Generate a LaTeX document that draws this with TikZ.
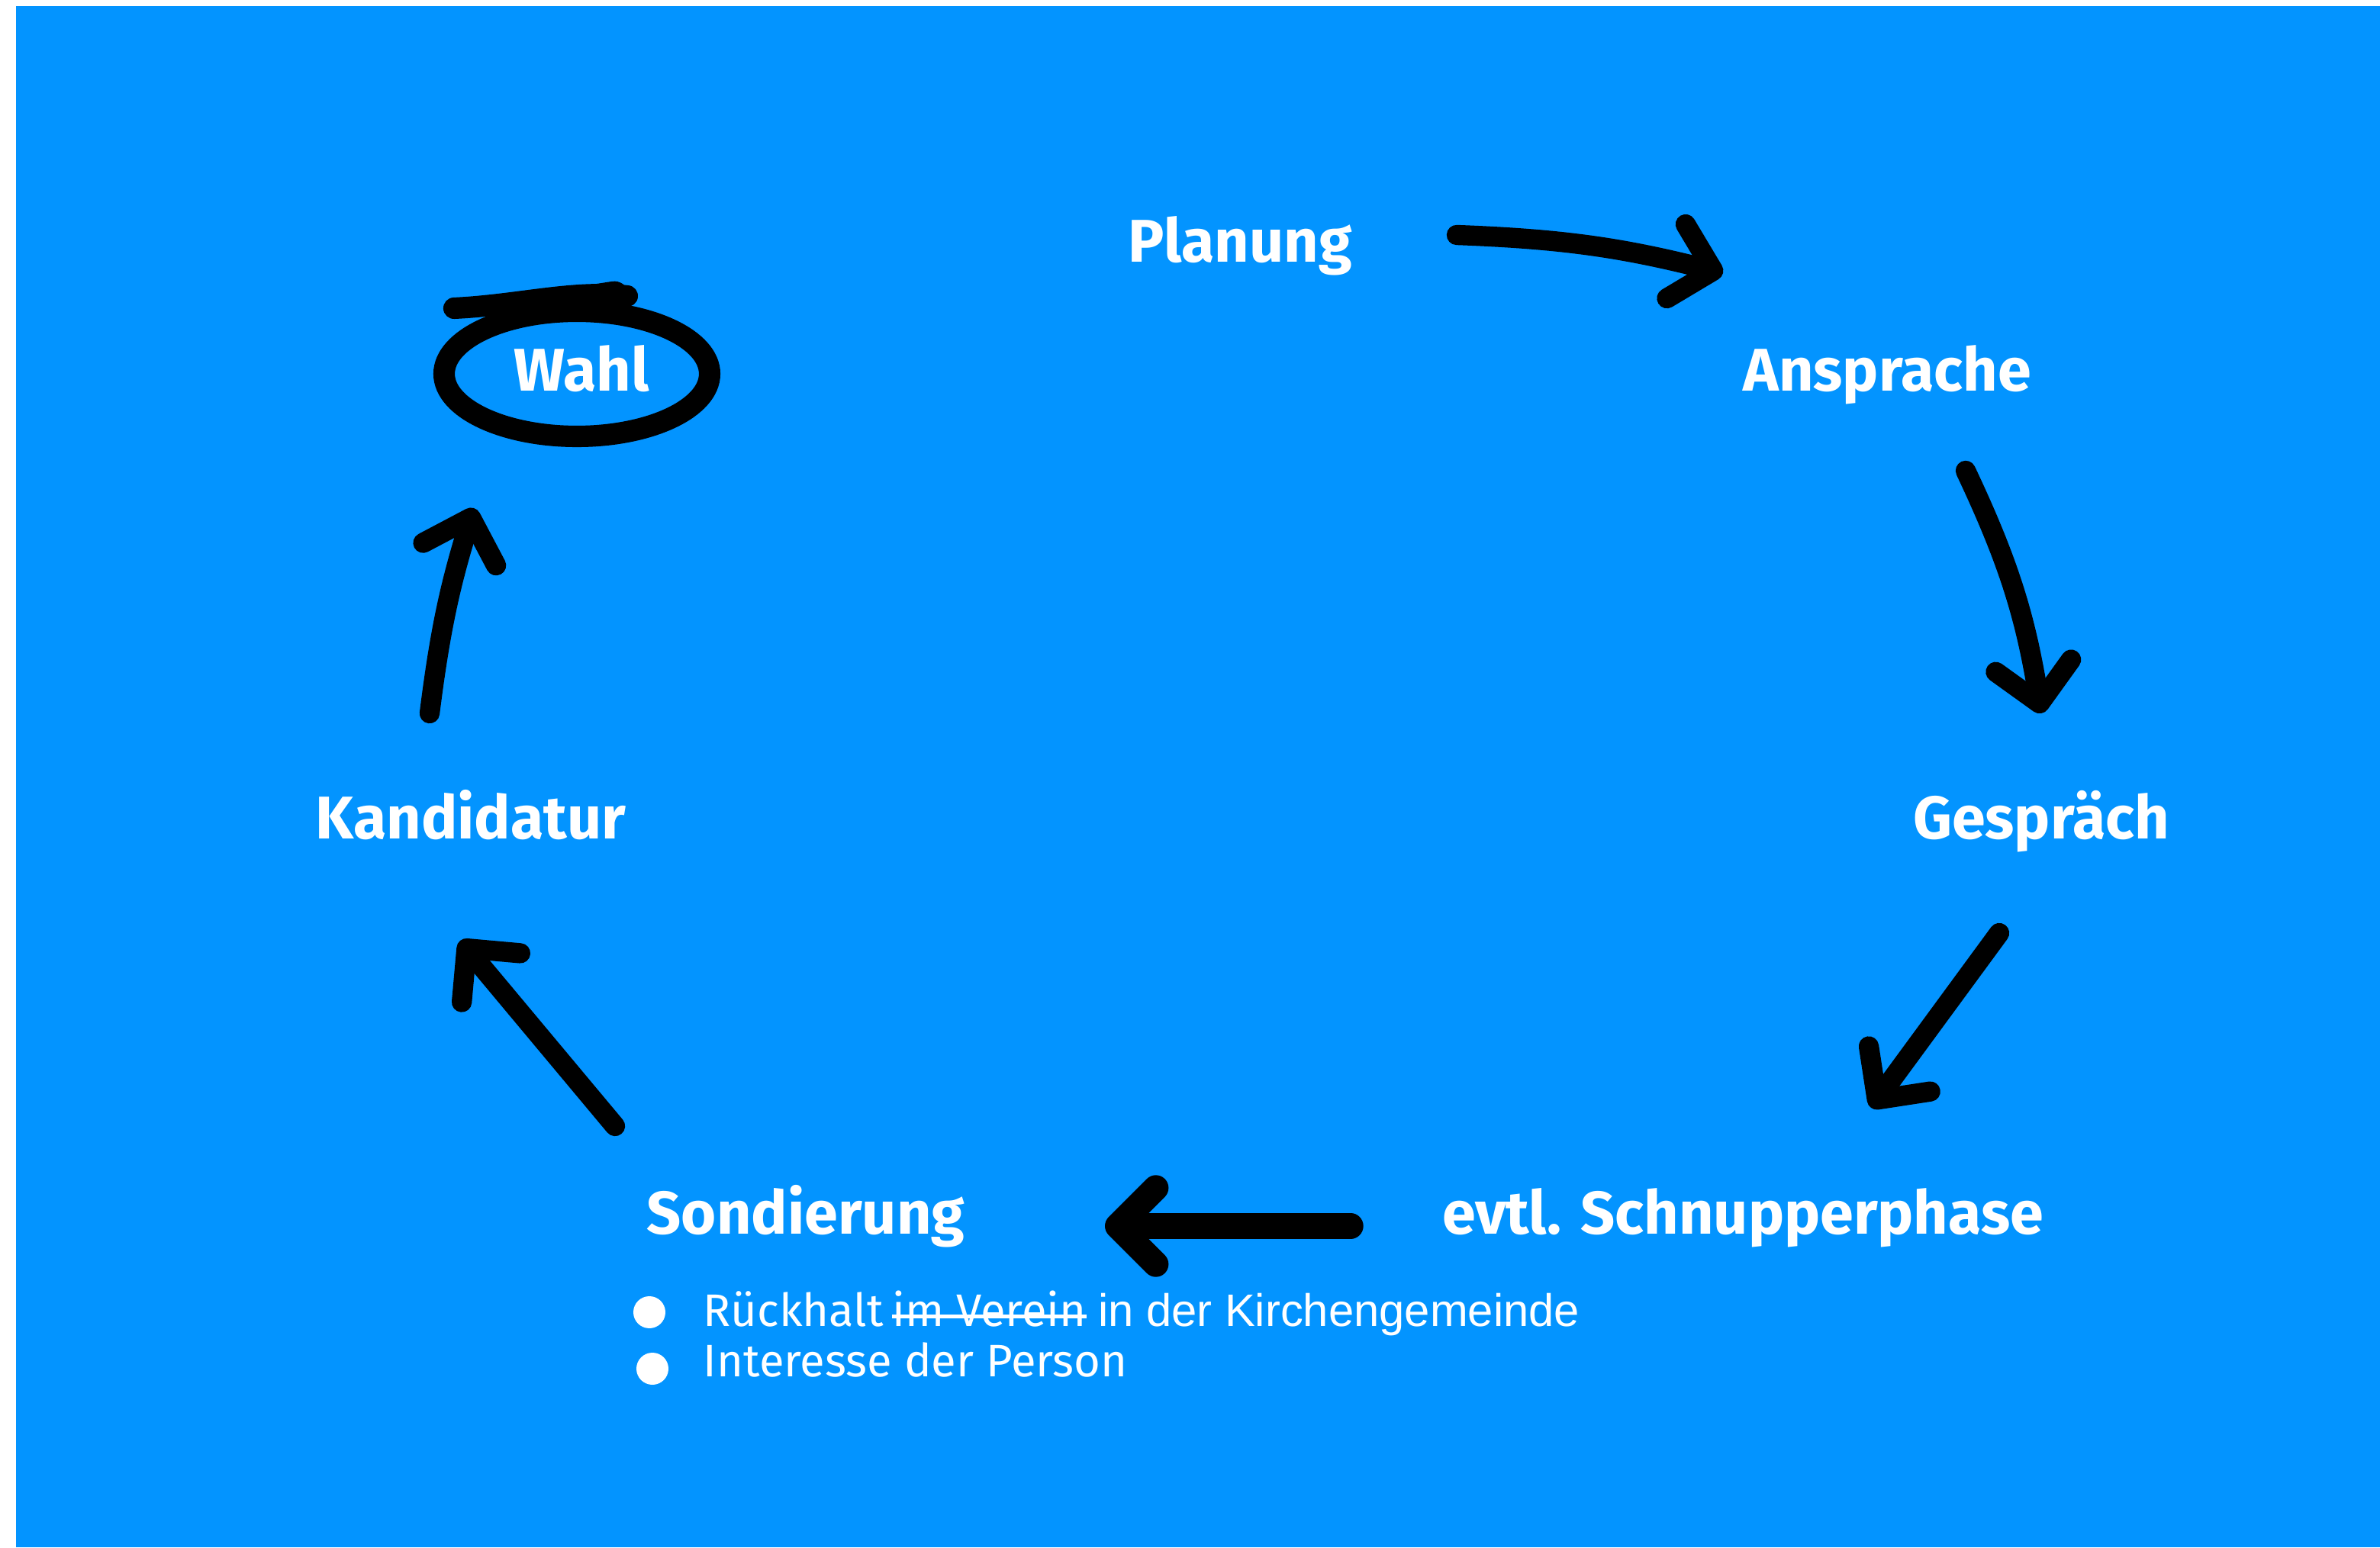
\documentclass[tikz,border=0pt]{standalone}
\usepackage{fontspec}
\setmainfont{Fira Sans}
\newfontfamily\arialfont{Liberation Sans}
\usetikzlibrary{arrows.meta}
\definecolor{skyblue}{RGB}{3,148,255}

\tikzset{
  phase/.style={text=white, font=\fontsize{22.5}{27}\selectfont\bfseries, anchor=base, inner sep=0pt},
  note/.style={text=white, font=\fontsize{17}{20}\selectfont, anchor=base west, inner sep=0pt},
  dot/.style={circle, fill=white, inner sep=0pt, minimum size=0.42cm},
  pen/.style={line width=7.5pt, line cap=round, line join=round,
    -{Straight Barb[length=5mm, width=10mm, round]}},
  ring/.style={line width=8pt, line cap=round},
}

\begin{document}
\begin{tikzpicture}
  \fill[white] (0,0) rectangle (31.19,20.28);
  \fill[skyblue] (0.21,0) rectangle (31.19,20.20);
  \useasboundingbox (0,0) rectangle (31.19,20.28);

  % phases
  \node[phase] (planung) at (16.25,16.84) {Planung};
  \node[phase] (ansprache) at (24.73,15.15) {Ansprache};
  \node[phase] (gespraech) at (26.75,9.28) {Gespräch};
  \node[phase] (schnupper) at (22.84,4.11) {evtl. Schnupperphase};
  \node[phase] (sondierung) at (10.56,4.11) {Sondierung};
  \node[phase] (kandidatur) at (6.17,9.28) {Kandidatur};
  \node[phase] (wahl) at (7.62,15.15) {Wahl};

  % circle round Wahl
  \draw[ring] (7.56,15.38) ellipse [x radius=1.74, y radius=0.82];
  \draw[ring] (5.95,16.24) .. controls (6.8,16.28) and (7.5,16.48) .. (8.22,16.40);
  \draw[ring, line width=11pt] (7.4,16.30) -- (8.05,16.40);

  % notes below Sondierung
  \node[dot] (d1) at (8.51,3.08) {};
  \node[dot] (d2) at (8.55,2.34) {};
  \node[note] (r1) at (9.21,2.90) {Rückhalt};
  \node[note] (r2) at ([xshift=0.3em]r1.base east) {im Verein};
  \node[note, font=\arialfont\fontsize{17}{20}\selectfont] (r3) at ([xshift=0.4em]r2.base east) {in der Kirchengemeinde};
  \draw[white, line width=1.3pt] ([yshift=0.36em]r2.base west) -- ([yshift=0.36em]r2.base east);
  \node[note] (i1) at (9.21,2.24) {Interesse der Person};

  % arrows
  \coordinate (a1s) at (19.09,17.20);
  \coordinate (a1e) at (22.58,16.70);
  \coordinate (a2s) at (25.76,14.11);
  \coordinate (a2e) at (26.75,10.93);
  \coordinate (a3s) at (26.20,8.05);
  \coordinate (a3e) at (24.52,5.76);
  \coordinate (a4s) at (17.70,4.21);
  \coordinate (a4e) at (14.48,4.21);
  \coordinate (a5s) at (8.06,5.52);
  \coordinate (a5e) at (6.03,7.95);
  \coordinate (a6s) at (5.63,10.93);
  \coordinate (a6e) at (6.21,13.62);

  \draw[pen] (a1s) to[bend left=6] (a1e);
  \draw[pen] (a2s) to[bend left=8] (a2e);
  \draw[pen] (a3s) -- (a3e);
  \draw[pen, line width=9.5pt] (a4s) -- (a4e);
  \draw[pen] (a5s) -- (a5e);
  \draw[pen] (a6s) to[bend left=5] (a6e);
\end{tikzpicture}
\end{document}
